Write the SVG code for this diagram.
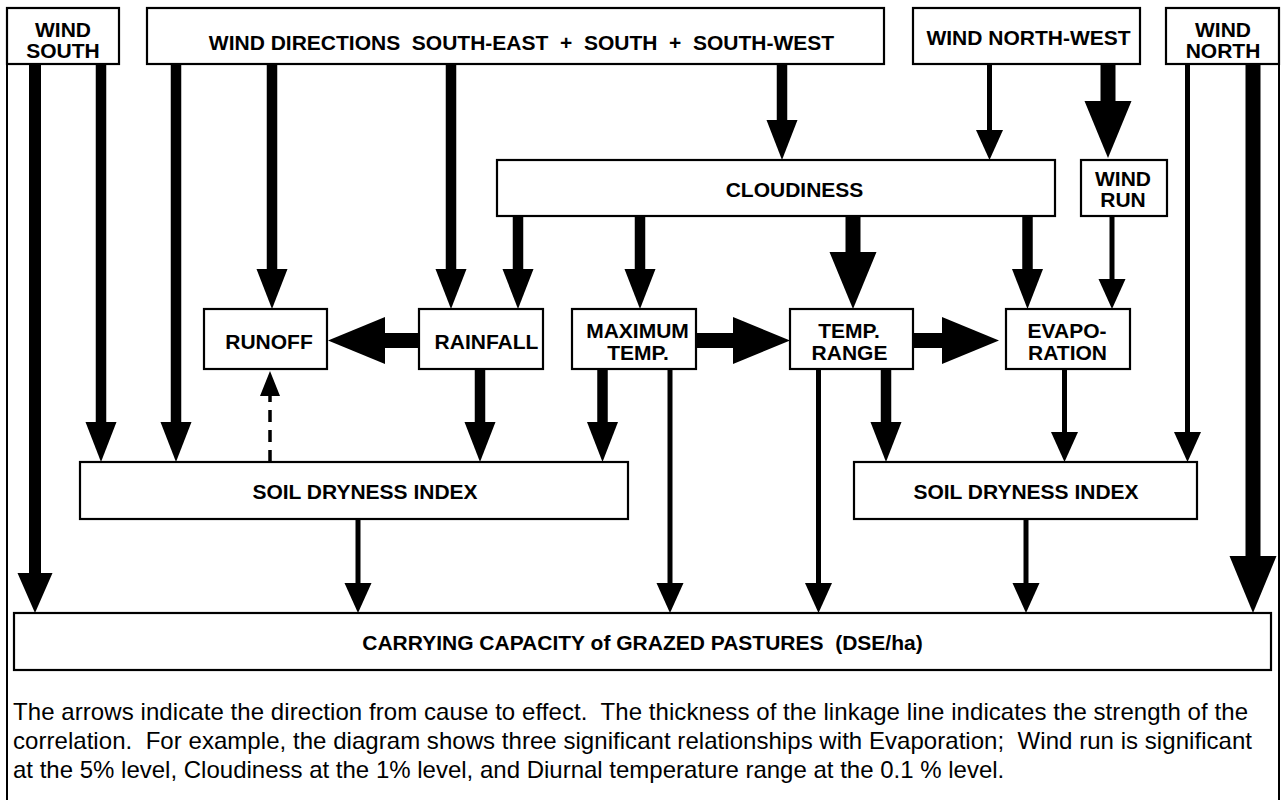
<svg xmlns="http://www.w3.org/2000/svg" width="1281" height="800" viewBox="0 0 1281 800">
<style>
.box{fill:#fff;stroke:#000;stroke-width:2.2}
.lbl{font-family:"Liberation Sans",Arial,Helvetica,sans-serif;font-weight:bold;font-size:21px;fill:#000;text-anchor:middle;white-space:pre}
.cap{font-family:"Liberation Sans",Arial,Helvetica,sans-serif;font-size:24px;fill:#000;white-space:pre}
.thin{stroke:#000;stroke-width:5;fill:none;marker-end:url(#hThin)}
.med{stroke:#000;stroke-width:10.5;fill:none;marker-end:url(#hMed)}
.medw{stroke:#000;stroke-width:12;fill:none;marker-end:url(#hMedW)}
.heavy{stroke:#000;stroke-width:15;fill:none;marker-end:url(#hHeavy)}
.dash{stroke:#000;stroke-width:3.5;fill:none;stroke-dasharray:12 8;marker-end:url(#hDash)}
.frame{stroke:#000;stroke-width:2;fill:none}
</style>
<defs>
<marker id="hThin" markerUnits="userSpaceOnUse" viewBox="0 -13.5 30 27" markerWidth="30" markerHeight="27" refX="1" refY="0" orient="auto" overflow="visible"><path d="M0,-13.5 L30,0 L0,13.5 z" fill="#000"/></marker>
<marker id="hMed" markerUnits="userSpaceOnUse" viewBox="0 -15.5 40 31" markerWidth="40" markerHeight="31" refX="1" refY="0" orient="auto" overflow="visible"><path d="M0,-15.5 L40,0 L0,15.5 z" fill="#000"/></marker>
<marker id="hMedW" markerUnits="userSpaceOnUse" viewBox="0 -17.5 40 35" markerWidth="40" markerHeight="35" refX="1" refY="0" orient="auto" overflow="visible"><path d="M0,-17.5 L40,0 L0,17.5 z" fill="#000"/></marker>
<marker id="hHeavy" markerUnits="userSpaceOnUse" viewBox="0 -23.5 57 47" markerWidth="57" markerHeight="47" refX="1" refY="0" orient="auto" overflow="visible"><path d="M0,-23.5 L57,0 L0,23.5 z" fill="#000"/></marker>
<marker id="hDash" markerUnits="userSpaceOnUse" viewBox="0 -10 25 20" markerWidth="25" markerHeight="20" refX="1" refY="0" orient="auto" overflow="visible"><path d="M0,-10 L25,0 L0,10 z" fill="#000"/></marker>
</defs>
<path class="frame" d="M7,8 V800 M1279,8 V800"/>
<g id="connectors">
<line class="medw" x1="35" y1="64" x2="35" y2="574"/>
<line class="med" x1="101" y1="64" x2="101" y2="423"/>
<line class="med" x1="176" y1="64" x2="176" y2="423"/>
<line class="med" x1="272" y1="64" x2="272" y2="270"/>
<line class="med" x1="451" y1="64" x2="451" y2="270"/>
<line class="med" x1="782" y1="64" x2="782" y2="121"/>
<line class="thin" x1="989.5" y1="64" x2="989.5" y2="131"/>
<line class="heavy" x1="1108" y1="64" x2="1108" y2="102"/>
<line class="med" x1="518" y1="216" x2="518" y2="270"/>
<line class="med" x1="640" y1="216" x2="640" y2="270"/>
<line class="heavy" x1="853" y1="216" x2="853" y2="253"/>
<line class="med" x1="1027.5" y1="216" x2="1027.5" y2="270"/>
<line class="thin" x1="1112" y1="216" x2="1112" y2="280"/>
<line class="thin" x1="1187.5" y1="64" x2="1187.5" y2="433"/>
<line class="heavy" x1="1253" y1="64" x2="1253" y2="557"/>
<line class="med" x1="480" y1="369" x2="480" y2="423"/>
<line class="med" x1="602.5" y1="369" x2="602.5" y2="423"/>
<line class="thin" x1="670" y1="369" x2="670" y2="584"/>
<line class="thin" x1="818.5" y1="369" x2="818.5" y2="584"/>
<line class="med" x1="886" y1="369" x2="886" y2="423"/>
<line class="thin" x1="1064.5" y1="369" x2="1064.5" y2="433"/>
<line class="thin" x1="358" y1="519" x2="358" y2="584"/>
<line class="thin" x1="1026" y1="519" x2="1026" y2="584"/>
<line class="heavy" x1="419" y1="340.5" x2="384" y2="340.5"/>
<line class="heavy" x1="696" y1="340.5" x2="734" y2="340.5"/>
<line class="heavy" x1="913" y1="340.5" x2="943" y2="340.5"/>
<line class="dash" x1="270" y1="462" x2="270" y2="395"/>
</g>
<g id="wind-south"><rect class="box" x="7" y="8" width="112" height="56"/><text class="lbl" x="63" y="37">WIND</text><text class="lbl" x="63" y="58">SOUTH</text></g>
<g id="wind-directions"><rect class="box" x="147" y="8" width="737" height="56"/><text class="lbl" x="521.5" y="50">WIND DIRECTIONS  SOUTH-EAST  +  SOUTH  +  SOUTH-WEST</text></g>
<g id="wind-north-west"><rect class="box" x="913" y="8" width="227" height="56"/><text class="lbl" x="1028.5" y="45">WIND NORTH-WEST</text></g>
<g id="wind-north"><rect class="box" x="1166" y="8" width="113" height="56"/><text class="lbl" x="1223" y="37">WIND</text><text class="lbl" x="1223" y="58">NORTH</text></g>
<g id="cloudiness"><rect class="box" x="497" y="160" width="558" height="56"/><text class="lbl" x="794.5" y="197">CLOUDINESS</text></g>
<g id="wind-run"><rect class="box" x="1081" y="160" width="86" height="56"/><text class="lbl" x="1123" y="186">WIND</text><text class="lbl" x="1123" y="207">RUN</text></g>
<g id="runoff"><rect class="box" x="204" y="309" width="123" height="60"/><text class="lbl" x="269" y="349">RUNOFF</text></g>
<g id="rainfall"><rect class="box" x="419" y="309" width="124" height="60"/><text class="lbl" x="486.5" y="349">RAINFALL</text></g>
<g id="maximum-temp"><rect class="box" x="572" y="309" width="124" height="60"/><text class="lbl" x="637.5" y="338">MAXIMUM</text><text class="lbl" x="638" y="360">TEMP.</text></g>
<g id="temp-range"><rect class="box" x="790" y="309" width="123" height="60"/><text class="lbl" x="849" y="338">TEMP.</text><text class="lbl" x="849.5" y="360">RANGE</text></g>
<g id="evaporation"><rect class="box" x="1006" y="309" width="124" height="60"/><text class="lbl" x="1067" y="338">EVAPO-</text><text class="lbl" x="1067.5" y="360">RATION</text></g>
<g id="soil-dryness-left"><rect class="box" x="80" y="462" width="548" height="57"/><text class="lbl" x="365" y="499">SOIL DRYNESS INDEX</text></g>
<g id="soil-dryness-right"><rect class="box" x="854" y="462" width="343" height="57"/><text class="lbl" x="1026" y="499">SOIL DRYNESS INDEX</text></g>
<g id="carrying-capacity"><rect class="box" x="14" y="613" width="1257" height="57"/><text class="lbl" x="642.5" y="650">CARRYING CAPACITY of GRAZED PASTURES  (DSE/ha)</text></g>
<g id="caption">
<text class="cap" x="13" y="720" textLength="1235" lengthAdjust="spacing">The arrows indicate the direction from cause to effect.  The thickness of the linkage line indicates the strength of the</text>
<text class="cap" x="13" y="749" textLength="1239" lengthAdjust="spacing">correlation.  For example, the diagram shows three significant relationships with Evaporation;  Wind run is significant</text>
<text class="cap" x="13" y="778">at the 5% level, Cloudiness at the 1% level, and Diurnal temperature range at the 0.1 % level.</text>
</g>
</svg>
